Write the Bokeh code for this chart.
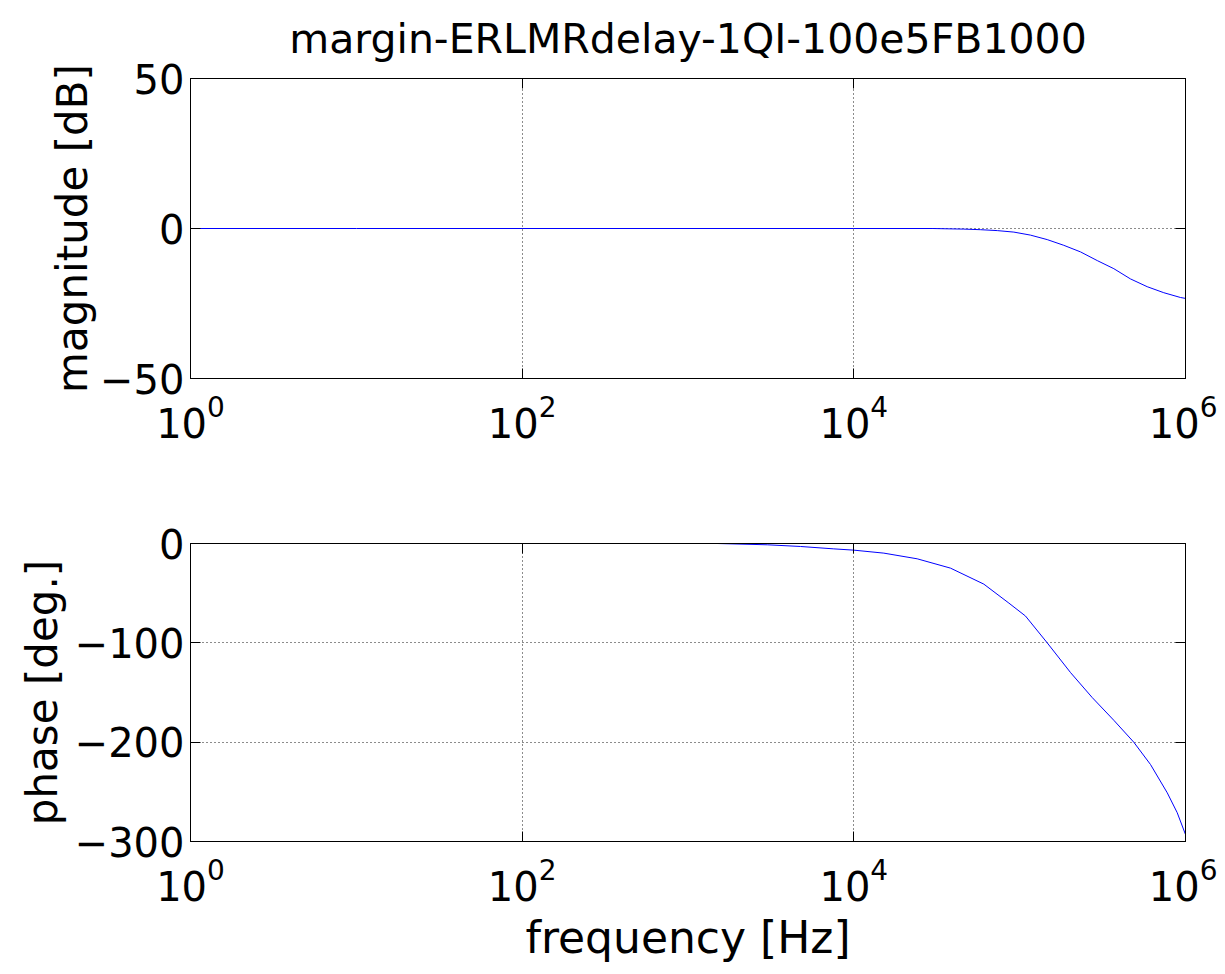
from bokeh.plotting import figure
from bokeh.models import LogAxis, LinearAxis, FixedTicker, Range1d
from bokeh.layouts import column
from bokeh.embed import file_html
from bokeh.resources import INLINE

# ---- data ----
title_text = "margin-ERLMRdelay-1QI-100e5FB1000"

freq_mag = [1, 10, 100, 1000, 10000, 30000, 36560, 46030, 58080, 73280, 92260,
            116100, 146600, 184500, 232800, 293800, 369800, 465600, 587500,
            739600, 933300, 1000000]
mag_db = [0, 0, 0, 0, 0, 0, -0.1, -0.2, -0.4, -0.7, -1.2,
          -2.2, -3.7, -5.6, -7.8, -10.7, -13.4, -16.8, -19.4,
          -21.4, -23.0, -23.3]

freq_phase = [1500, 3006, 4764, 7568, 10000, 15170, 24100, 38280, 60810, 86100,
              108400, 146600, 202800, 273500, 369800, 487500, 615200, 776200,
              891300, 1000000]
phase_deg = [0, -1.3, -3.0, -5.4, -6.7, -9.7, -15.4, -24.8, -40.9, -60,
             -73, -100, -130, -155, -178, -200, -222.5, -251,
             -271, -293]

x_ticks = [1, 100, 10000, 1000000]
mag_ticks = [-50, 0, 50]
phase_ticks = [-300, -200, -100, 0]

FONT = "DejaVu Sans"
TICK_FS = "40px"


def style_axis(ax, ticks, labels=True, standoff=6):
    ax.ticker = FixedTicker(ticks=ticks, minor_ticks=[])
    ax.major_tick_in = 10
    ax.major_tick_out = 0
    ax.minor_tick_line_color = None
    ax.axis_line_color = "black"
    ax.major_tick_line_color = "black"
    ax.major_label_text_font = FONT
    if labels:
        ax.major_label_text_color = "black"
        ax.major_label_text_font_size = TICK_FS
        ax.major_label_standoff = standoff
    else:
        ax.major_label_text_color = None
        ax.major_label_text_font_size = "1px"
        ax.major_label_standoff = 0
    ax.axis_label_text_font = FONT
    ax.axis_label_text_font_style = "normal"
    ax.axis_label_text_color = "black"


def make_fig(ylo, yhi, yticks, ylabel, ylabel_standoff, fheight, btop, bbottom,
             xlabel=None, title=None):
    p = figure(x_axis_type="log", x_range=Range1d(1, 1e6), y_range=Range1d(ylo, yhi),
               frame_width=995, frame_height=fheight,
               min_border_left=190, min_border_right=32,
               min_border_top=btop, min_border_bottom=bbottom,
               output_backend="svg", toolbar_location=None,
               background_fill_color="white", border_fill_color="white",
               outline_line_color="black", outline_line_width=1)
    style_axis(p.xaxis[0], x_ticks, standoff=16)
    style_axis(p.yaxis[0], yticks, standoff=6)
    p.yaxis[0].axis_label = ylabel
    p.yaxis[0].axis_label_text_font_size = "42px"
    p.yaxis[0].axis_label_standoff = ylabel_standoff
    if xlabel:
        p.xaxis[0].axis_label = xlabel
        p.xaxis[0].axis_label_text_font_size = "44px"
        p.xaxis[0].axis_label_standoff = 8
    top_ax = LogAxis()
    style_axis(top_ax, x_ticks, labels=False)
    p.add_layout(top_ax, "above")
    right_ax = LinearAxis()
    style_axis(right_ax, yticks, labels=False)
    p.add_layout(right_ax, "right")
    for g, t in ((p.xgrid[0], x_ticks), (p.ygrid[0], yticks)):
        g.ticker = FixedTicker(ticks=t, minor_ticks=[])
        g.grid_line_color = "black"
        g.grid_line_dash = "1 3"
        g.grid_line_width = 1
        g.grid_line_alpha = 0.9
    if title:
        p.title.text = title
        p.title.text_font = FONT
        p.title.text_font_size = "41px"
        p.title.text_font_style = "normal"
        p.title.align = "center"
        p.title.vertical_align = "top"
        p.title.text_color = "black"
        p.title.standoff = 28
    return p


p1 = make_fig(-50, 50, mag_ticks, "magnitude [dB]", 0, 300, 78, 100, title=title_text)
p1.line(freq_mag, mag_db, line_color="#0000ff", line_width=1)

p2 = make_fig(-300, 0, phase_ticks, "phase [deg.]", 5, 298, 65, 133, xlabel="frequency [Hz]")
p2.line(freq_phase, phase_deg, line_color="#0000ff", line_width=1)

layout = column(p1, p2, spacing=0)
open("out.html", "w").write(file_html(layout, INLINE))
